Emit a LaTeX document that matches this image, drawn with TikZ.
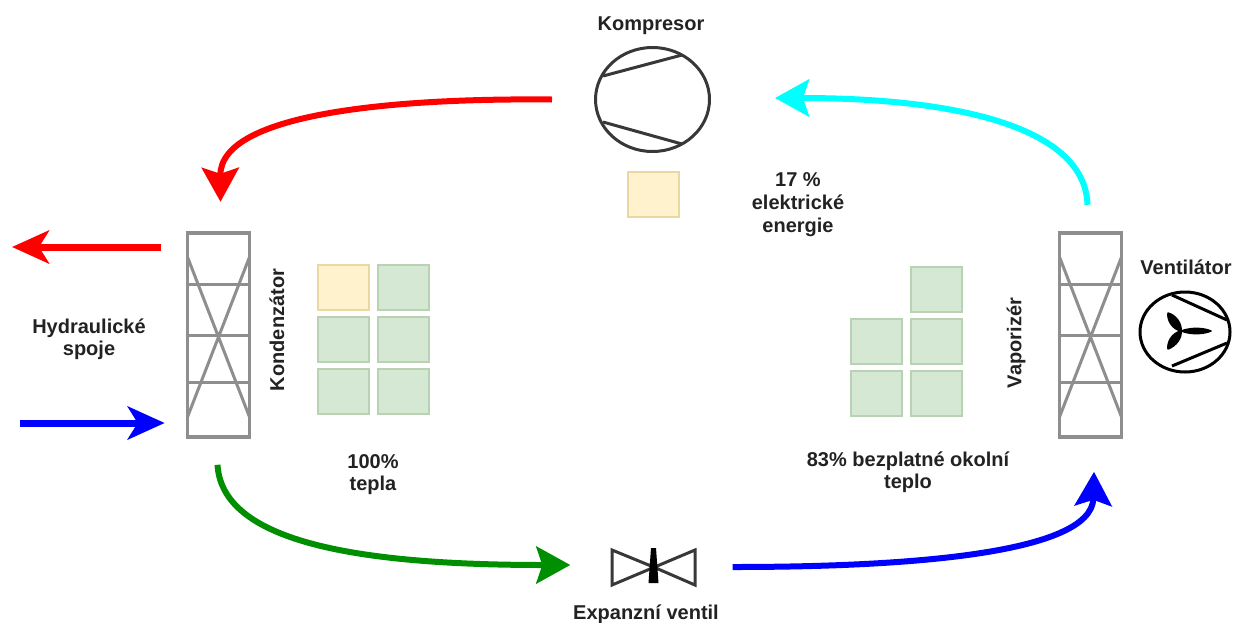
\documentclass[tikz,border=0pt]{standalone}
\usepackage{fontspec}
\setmainfont{Liberation Sans}
\usetikzlibrary{arrows.meta,shapes.geometric}
\definecolor{txt}{HTML}{222222}
\definecolor{hxgrey}{HTML}{8E8E8E}
\definecolor{sqy}{HTML}{FFF2CC}
\definecolor{sqyb}{HTML}{E9D9A0}
\definecolor{sqg}{HTML}{D5E8D4}
\definecolor{sqgb}{HTML}{B9D2B4}
\definecolor{flowgreen}{HTML}{008F00}
\definecolor{flowcyan}{HTML}{00FFFF}
\tikzset{
  lbl/.style={font=\fontsize{20}{22}\selectfont\bfseries,text=txt,align=center,inner sep=0pt},
  hx/.style={draw=hxgrey,line width=3.6pt,rectangle,minimum width=62pt,minimum height=204pt,inner sep=0pt},
  hxline/.style={draw=hxgrey,line width=3pt},
  sym/.style={draw=black!78,line width=3pt},
  heaty/.style={draw=sqyb,fill=sqy,line width=2pt,rectangle,minimum width=51pt,minimum height=45pt,inner sep=0pt},
  heatg/.style={draw=sqgb,fill=sqg,line width=2pt,rectangle,minimum width=51pt,minimum height=45pt,inner sep=0pt},
  flow/.style={line width=6pt,-{Stealth[length=34pt,width=37pt,inset=6pt]}},
  pipe/.style={line width=7pt,-{Stealth[length=37pt,width=33pt,inset=10pt]}},
  blade/.style={draw=black,fill=black,line width=1.5pt,line join=round},
}
\newcommand{\hxinner}[1]{%
  \begin{scope}[shift={(#1)}]
    \draw[hxline] (-31,-51) -- (31,-51) (-31,0) -- (31,0) (-31,47) -- (31,47);
    \draw[hxline] (-31,-78) -- (31,82) (31,-78) -- (-31,82);
  \end{scope}}
\begin{document}
\begin{tikzpicture}[x=1pt,y=-1pt]
\useasboundingbox (0,0) rectangle (1233,622);
% components
\node[hx] (cond) at (218.5,335) {};
\hxinner{218.5,335}
\node[hx] (evap) at (1090.5,335) {};
\hxinner{1090.5,335}
\node[sym,ellipse,minimum width=114pt,minimum height=104pt,inner sep=0pt] (comp) at (652.5,99.5) {};
\draw[sym] (603,76) -- (682,55) (603,122) -- (682,144);
% valve
\node[inner sep=0pt,minimum width=84pt,minimum height=36pt] (valve) at (653.5,567) {};
\draw[sym,line join=miter] (valve.center) -- (612,550) -- (612,585) -- (695,550) -- (695,585) -- cycle;
\fill[black] (651,548) -- (656,548) -- (658.5,583) -- (648.5,583) -- cycle;
% fan
\node[draw=black,line width=3pt,ellipse,minimum width=90pt,minimum height=80pt,inner sep=0pt] (fan) at (1185,332) {};
\draw[draw=black,line width=3pt] (1172,295) -- (1227,320) (1172,366) -- (1227,343);
\draw[blade] (1181,331) .. controls (1192,327) and (1204,328) .. (1211,331) .. controls (1204,334) and (1192,335) .. cycle;
\draw[blade] (1181,331) .. controls (1182,324) and (1176,315) .. (1168,313) .. controls (1167,320) and (1172,329) .. cycle;
\draw[blade] (1181,331) .. controls (1182,338) and (1176,346) .. (1168,349) .. controls (1167,342) and (1172,333) .. cycle;
% heat squares
\node[heaty] (q1) at (653.5,194) {};
\node[heaty] (a1) at (343,287.5) {};
\node[heatg] (a2) at (403,287.5) {};
\node[heatg] (a3) at (343,339.5) {};
\node[heatg] (a4) at (403,339.5) {};
\node[heatg] (a5) at (343,391.5) {};
\node[heatg] (a6) at (403,391.5) {};
\node[heatg] (b1) at (936,289) {};
\node[heatg] (b2) at (876.5,341) {};
\node[heatg] (b3) at (936,341) {};
\node[heatg] (b4) at (876.5,393) {};
\node[heatg] (b5) at (936,393) {};
% labels
\node[lbl] (lcomp) at (651,25.5) {Kompresor};
\node[lbl] (lelec) at (798,205) {17 \%\\[1pt]elektrické\\[1pt]energie};
\node[lbl] (lhyd) at (89,339) {Hydraulické\\[0pt]spoje};
\node[lbl,rotate=90] (lcond) at (277,330) {Kondenzátor};
\node[lbl,rotate=90] (levap) at (1016,343) {Vaporizér};
\node[lbl] (lfan) at (1186,267) {Ventilátor};
\node[lbl] (lhot) at (373,475) {100\%\\[0pt]tepla};
\node[lbl] (lamb) at (908,472) {83\% bezplatné okolní\\[0pt]teplo};
\node[lbl] (lval) at (646,614) {Expanzní ventil};
% refrigerant circuit
\draw[flow,red] ([xshift=-42pt]comp.west) .. controls (400,98) and (220,112) .. ([xshift=2pt,yshift=29.4pt]cond.north);
\draw[flow,flowcyan] ([xshift=-3pt,yshift=26.4pt]evap.north) .. controls (1085,125) and (950,98) .. ([xshift=64pt,yshift=1.5pt]comp.east);
\draw[flow,flowgreen] ([xshift=-1pt,yshift=-26pt]cond.south) .. controls (222,540) and (350,565) .. ([xshift=-41pt,yshift=2pt]valve.west);
\draw[flow,blue] ([xshift=37pt]valve.east) .. controls (900,567) and (1092,555) .. ([xshift=3.5pt,yshift=-33pt]evap.south);
% hydraulic connections
\coordinate (hotout) at (12,247);
\coordinate (coldin) at (20,423);
\draw[pipe,red] ([xshift=-25pt]cond.west |- hotout) -- (hotout);
\draw[pipe,blue,shorten >=21pt] (coldin) -- (cond.west |- coldin);
\end{tikzpicture}
\end{document}
